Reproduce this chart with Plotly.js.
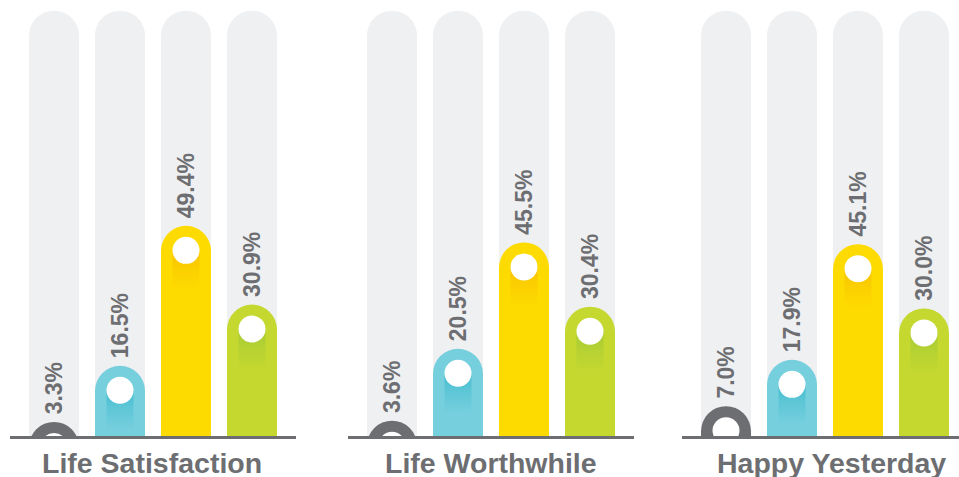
<!DOCTYPE html>
<html><head><meta charset="utf-8">
<script src="https://cdn.plot.ly/plotly-3.0.1.min.js"></script>
<style>html,body{margin:0;padding:0;background:#fff}</style>
</head><body>
<div id="chart" style="width:959px;height:477px"></div>
<script>
// ---- data ----
const categories = ["Life Satisfaction", "Life Worthwhile", "Happy Yesterday"];
const levels = ["Low", "Medium", "High", "Very high"];
const lifeSatisfaction = [3.3, 16.5, 49.4, 30.9];
const lifeWorthwhile = [3.6, 20.5, 45.5, 30.4];
const happyYesterday = [7.0, 17.9, 45.1, 30.0];
const trackMax = [100, 100, 100, 100];

// ---- styling ----
const series = [lifeSatisfaction, lifeWorthwhile, happyYesterday];
const barColors = ['#6d6e71', '#76cfdd', '#fedb00', '#c4d82f'];
const shadeRGB = ['90,90,94', '60,186,206', '246,190,0', '160,200,56'];
const textGray = '#6d6e71';
const W = 959, H = 477, MB = 41;
const plotH = H - MB;
const YMAX = 102.5;
const pxPerUnit = plotH / YMAX;
const barPx = 50;
const capOffset = (barPx / 2) / pxPerUnit;   // cap circle centre below bar top
const dotOffset = 24.5 / pxPerUnit;          // white dot centre below bar top
const shadowLen = 40 / pxPerUnit;
const catPx = 66;
const barW = barPx / catPx;
const shadowHalf = 13.5 / catPx;
const xIdx = levels.map((_, i) => i);
const domainsPx = [[10, 296], [348, 634], [682, 959]];
const labelCenterPx = [151.7, 490.5, 831];
const fontFam = 'Liberation Sans, Arial, sans-serif';

const traces = [];
const annotations = [];
const layout = {
  width: W, height: H,
  margin: {l: 0, r: 0, t: 0, b: MB, pad: 0},
  paper_bgcolor: '#fff', plot_bgcolor: 'rgba(0,0,0,0)',
  showlegend: false, barmode: 'overlay',
  yaxis: {range: [0, YMAX], visible: false, fixedrange: true},
  yaxis2: {range: [0, YMAX], visible: false, fixedrange: true, overlaying: 'y'},
  annotations: annotations
};

series.forEach((vals, s) => {
  const xa = s === 0 ? 'x' : 'x' + (s + 1);
  const xKey = s === 0 ? 'xaxis' : 'xaxis' + (s + 1);
  const d = domainsPx[s];
  const left = -0.6667;
  const right = left + (d[1] - d[0]) / catPx;
  layout[xKey] = {
    domain: [d[0] / W, d[1] / W], anchor: 'y', range: [left, right],
    showline: true, linecolor: textGray, linewidth: 3,
    showgrid: false, zeroline: false, showticklabels: false, ticks: '', fixedrange: true
  };
  // track (base subplot)
  traces.push({
    type: 'bar', x: xIdx, y: trackMax, xaxis: xa, yaxis: 'y', width: barW,
    marker: {color: '#eff0f2', cornerradius: '50%', line: {width: 0}},
    hoverinfo: 'skip'
  });
  // value bar body (up to the cap centre)
  traces.push({
    type: 'bar', x: xIdx, y: vals.map(v => v - capOffset), xaxis: xa, yaxis: 'y2', width: barW,
    marker: {color: barColors, line: {width: 0}},
    hoverinfo: 'skip'
  });
  // value labels (invisible full-height bar carrying the text)
  traces.push({
    type: 'bar', x: xIdx, y: vals, xaxis: xa, yaxis: 'y2', width: barW,
    marker: {color: 'rgba(0,0,0,0)', line: {width: 0}},
    texttemplate: '\u2009%{y:.1f}%', textposition: 'outside', textangle: -90,
    constraintext: 'none',
    outsidetextfont: {family: fontFam, size: 23, color: textGray, weight: 700},
    name: categories[s]
  });
  // round caps
  traces.push({
    type: 'scatter', mode: 'markers', xaxis: xa, yaxis: 'y2',
    x: xIdx, y: vals.map(v => v - capOffset),
    marker: {color: barColors, size: barPx, line: {width: 0}},
    hoverinfo: 'skip'
  });
  // shadows under the white dots
  vals.forEach((v, i) => {
    const yc = v - dotOffset;
    traces.push({
      type: 'scatter', mode: 'lines', xaxis: xa, yaxis: 'y2',
      x: [i - shadowHalf, i + shadowHalf, i + shadowHalf, i - shadowHalf, i - shadowHalf],
      y: [yc, yc, yc - shadowLen, yc - shadowLen, yc],
      fill: 'toself', line: {width: 0, color: 'rgba(0,0,0,0)'},
      fillgradient: {type: 'vertical', colorscale: [[0, 'rgba(' + shadeRGB[i] + ',0)'], [0.6, 'rgba(' + shadeRGB[i] + ',0.45)'], [1, 'rgba(' + shadeRGB[i] + ',0.85)']]},
      hoverinfo: 'skip'
    });
  });
  // white dots
  traces.push({
    type: 'scatter', mode: 'markers', xaxis: xa, yaxis: 'y2',
    x: xIdx, y: vals.map(v => v - dotOffset),
    marker: {color: '#ffffff', size: 27, line: {width: 0}},
    hoverinfo: 'skip'
  });
  annotations.push({
    text: '<b>' + categories[s] + '</b>', xref: 'paper',
    x: labelCenterPx[s] / W, xanchor: 'center',
    yref: 'paper', y: (plotH - 463) / plotH, yanchor: 'middle', showarrow: false,
    font: {family: fontFam, size: 28.5, color: textGray}
  });
});

Plotly.newPlot('chart', traces, layout, {displayModeBar: false, staticPlot: true});
</script>
</body></html>
